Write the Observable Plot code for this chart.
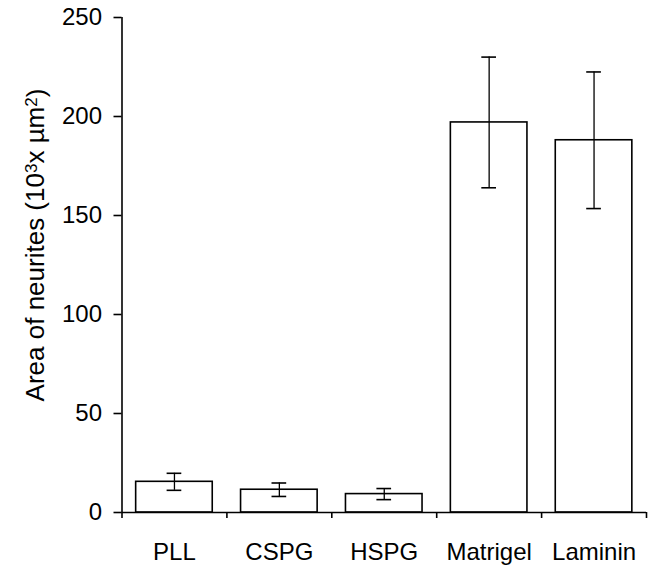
<!DOCTYPE html>
<html>
<head>
<meta charset="utf-8">
<script src="https://cdn.jsdelivr.net/npm/d3@7"></script>
<script src="https://cdn.jsdelivr.net/npm/@observablehq/plot@0.6"></script>
<style>
  html, body { margin: 0; padding: 0; background: #fff; }
  svg { font-family: "Liberation Sans", Arial, sans-serif; }
</style>
</head>
<body>
<div id="chart"></div>
<script>
const categories = ["PLL", "CSPG", "HSPG", "Matrigel", "Laminin"];
const means = [15.5, 11.5, 9.3, 197, 188];
const errors = [4.3, 3.4, 2.8, 33, 34.5];
const yTicks = [0, 50, 100, 150, 200, 250];
// label pieces: [text, isSuperscript]
const yLabelParts = [["Area of neurites (10", false], ["3", true], ["x µm", false], ["2", true], [")", false]];
const yLabel = yLabelParts.map(p => p[0]).join("");

const data = categories.map((c, i) => ({ cat: c, i, mean: means[i], err: errors[i] }));
const barHalf = 0.365;   // bar half-width in band units
const capHalf = 0.07;    // error cap half-width in band units

const chart = Plot.plot({
  width: 652,
  height: 566,
  marginLeft: 121.5,
  marginRight: 6,
  marginTop: 17,
  marginBottom: 54,
  style: { fontFamily: "Liberation Sans, Arial, sans-serif", background: "#fff", color: "#000" },
  x: { type: "linear", domain: [0, categories.length] },
  y: { domain: [0, 250] },
  marks: [
    Plot.rectY(data, {
      x1: d => d.i + 0.5 - barHalf, x2: d => d.i + 0.5 + barHalf,
      y1: 0, y2: "mean", fill: "white", stroke: "black", strokeWidth: 1.6
    }),
    Plot.ruleX(data, { x: d => d.i + 0.5, y1: d => d.mean - d.err, y2: d => d.mean + d.err, stroke: "black", strokeWidth: 1.3 }),
    Plot.ruleY(data, { y: d => d.mean + d.err, x1: d => d.i + 0.5 - capHalf, x2: d => d.i + 0.5 + capHalf, stroke: "black", strokeWidth: 1.6 }),
    Plot.ruleY(data, { y: d => d.mean - d.err, x1: d => d.i + 0.5 - capHalf, x2: d => d.i + 0.5 + capHalf, stroke: "black", strokeWidth: 1.6 }),
    Plot.ruleX([0], { y1: 0, y2: 250, stroke: "black", strokeWidth: 1.6 }),
    Plot.ruleY([0], { x1: 0, x2: categories.length, stroke: "black", strokeWidth: 1.6 }),
    Plot.axisY({ ticks: yTicks, tickSize: 8, tickPadding: 12, fontSize: 24, label: null, strokeWidth: 1.6 }),
    Plot.axisX({ ticks: d3.range(categories.length + 1), tickSize: 6, tickFormat: () => "", label: null, strokeWidth: 1.6 }),
    Plot.axisX({ ticks: d3.range(categories.length).map(i => i + 0.5), tickSize: 0, tickPadding: 30,
      tickFormat: v => categories[Math.floor(v)], fontSize: 24, label: null }),
    Plot.text([yLabel], { text: d => d, frameAnchor: "left", textAnchor: "middle", rotate: -90, dx: -86, dy: -20, fontSize: 26 })
  ]
});

// rebuild the axis title with real superscripts
d3.select(chart).selectAll("text").filter(function () { return this.textContent === yLabel; }).each(function () {
  const t = d3.select(this);
  t.text(null);
  yLabelParts.forEach(([s, sup], k) => {
    const prevSup = k > 0 && yLabelParts[k - 1][1];
    const ts = t.append("tspan").text(s);
    if (sup) ts.attr("font-size", 17).attr("dy", "-0.45em");
    else if (prevSup) ts.attr("dy", "0.3em");
  });
});
document.getElementById("chart").appendChild(chart);
</script>
</body>
</html>
